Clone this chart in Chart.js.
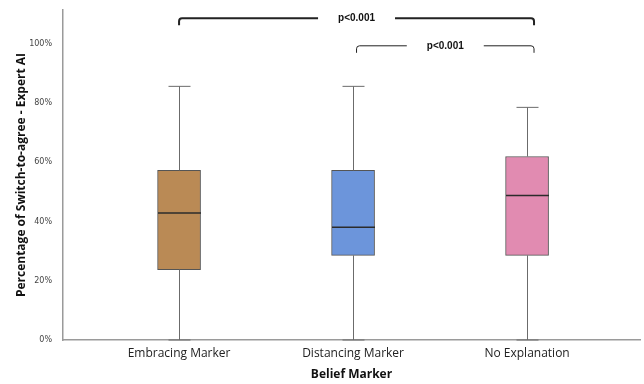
<!DOCTYPE html>
<html>
<head>
<meta charset="utf-8">
<script src="https://cdn.jsdelivr.net/npm/chart.js@4/dist/chart.umd.min.js"></script>
<style>
  html, body { margin: 0; padding: 0; background: #fff; }
  #wrap { width: 644px; height: 384px; }
</style>
</head>
<body>
<div id="wrap"><canvas id="boxChart"></canvas></div>
<script>
// ------------------ DATA ------------------
const categories = ["Embracing Marker", "Distancing Marker", "No Explanation"];
const whiskerLow = [0, 0, 0];
const q1Values = [23.8, 28.6, 28.6];
const medians = [42.9, 38.1, 48.8];
const q3Values = [57.3, 57.3, 62.0];
const whiskerHigh = [85.7, 85.7, 78.6];
const boxColors = ["#BA8A55", "#6C95DB", "#E18BB1"];
const yTicks = [0, 20, 40, 60, 80, 100];

// pairwise comparisons shown above the boxes
const comparisons = [
    { from: 1, to: 3.04, level: 108.7, label: "p<0.001", width: 2 },
    { from: 2.02, to: 3.04, level: 99.4, label: "p<0.001", width: 1 },
];

// ------------------ BOX PLOT PARTS ------------------
const boxPlotParts = {
    id: 'boxPlotParts',
    afterDatasetsDraw(chart) {
        const { ctx, scales: { x, y } } = chart;
        ctx.save();
        categories.forEach((c, i) => {
            const cx = Math.round(x.getPixelForValue(i + 1)) + 0.5;
            // whiskers
            ctx.strokeStyle = '#6b6b6b';
            ctx.lineWidth = 1;
            ctx.beginPath();
            ctx.moveTo(cx, y.getPixelForValue(q3Values[i]));
            ctx.lineTo(cx, y.getPixelForValue(whiskerHigh[i]));
            ctx.moveTo(cx, y.getPixelForValue(q1Values[i]));
            ctx.lineTo(cx, y.getPixelForValue(whiskerLow[i]));
            // caps
            const capHi = y.getPixelForValue(whiskerHigh[i]);
            const capLo = y.getPixelForValue(whiskerLow[i]);
            ctx.moveTo(cx - 11, capHi);
            ctx.lineTo(cx + 11, capHi);
            ctx.moveTo(cx - 11, capLo);
            ctx.lineTo(cx + 11, capLo);
            ctx.stroke();
            // median
            ctx.strokeStyle = '#2b2b2b';
            ctx.lineWidth = 1.5;
            const my = y.getPixelForValue(medians[i]);
            ctx.beginPath();
            ctx.moveTo(cx - 21.5, my);
            ctx.lineTo(cx + 21.5, my);
            ctx.stroke();
        });

        // significance brackets
        ctx.fillStyle = '#111';
        ctx.strokeStyle = '#222';
        ctx.font = 'bold 10px "Liberation Sans", Arial, sans-serif';
        ctx.textAlign = 'center';
        ctx.textBaseline = 'middle';
        comparisons.forEach(cmp => {
            const x1 = x.getPixelForValue(cmp.from);
            const x2 = x.getPixelForValue(cmp.to);
            const ly = y.getPixelForValue(cmp.level);
            const mid = (x1 + x2) / 2;
            const half = ctx.measureText(cmp.label).width / 2 + 20;
            ctx.lineWidth = cmp.width;
            ctx.beginPath();
            ctx.moveTo(x1, ly + 7);
            ctx.lineTo(x1, ly + 3);
            ctx.quadraticCurveTo(x1, ly, x1 + 3, ly);
            ctx.lineTo(mid - half, ly);
            ctx.moveTo(mid + half, ly);
            ctx.lineTo(x2 - 3, ly);
            ctx.quadraticCurveTo(x2, ly, x2, ly + 3);
            ctx.lineTo(x2, ly + 7);
            ctx.stroke();
            ctx.fillText(cmp.label, mid, ly);
        });
        ctx.restore();
    }
};

// ------------------ CHART ------------------
function initChart() {
    const ctx = document.getElementById('boxChart').getContext('2d');
    new Chart(ctx, {
        type: 'bar',
        data: {
            datasets: [{
                data: categories.map((c, i) => ({ x: i + 1, y: [q1Values[i], q3Values[i]] })),
                backgroundColor: boxColors,
                borderColor: '#555',
                borderWidth: 1,
                borderSkipped: false,
                barThickness: 43,
            }],
        },
        options: {
            responsive: true,
            maintainAspectRatio: false,
            animation: false,
            layout: { padding: { top: 10, right: 4, left: 0, bottom: 0 } },
            plugins: {
                legend: { display: false },
                tooltip: { enabled: false },
            },
            scales: {
                x: {
                    type: 'linear',
                    offset: false,
                    min: 0.333,
                    max: 3.649,
                    grid: { display: false },
                    border: { color: '#9a9a9a', width: 1.5 },
                    afterBuildTicks: s => { s.ticks = categories.map((c, i) => ({ value: i + 1 })); },
                    afterFit: s => { s.height = 44; },
                    ticks: {
                        autoSkip: false,
                        maxRotation: 0,
                        padding: -2,
                        color: '#222',
                        font: { family: '"Open Sans", sans-serif', size: 12 },
                        callback: v => categories[v - 1],
                    },
                    title: {
                        display: true,
                        text: 'Belief Marker',
                        color: '#111',
                        padding: { top: 5, bottom: 2 },
                        font: { family: '"Open Sans", sans-serif', size: 12, weight: 'bold' },
                    },
                },
                y: {
                    min: 0,
                    max: 111.5,
                    grid: { display: false },
                    border: { color: '#9a9a9a', width: 1.5 },
                    afterBuildTicks: s => { s.ticks = yTicks.map(v => ({ value: v })); },
                    afterFit: s => { s.width = 63; },
                    ticks: {
                        padding: 3,
                        color: '#444',
                        font: { family: '"DejaVu Sans", sans-serif', size: 8 },
                        callback: v => v + '%',
                    },
                    title: {
                        display: true,
                        text: 'Percentage of Switch-to-agree - Expert AI',
                        color: '#111',
                        padding: { top: 14, bottom: 0 },
                        font: { family: '"Open Sans", sans-serif', size: 12, weight: 'bold' },
                    },
                },
            },
        },
        plugins: [boxPlotParts],
    });
}

document.addEventListener('DOMContentLoaded', initChart);
</script>
</body>
</html>
